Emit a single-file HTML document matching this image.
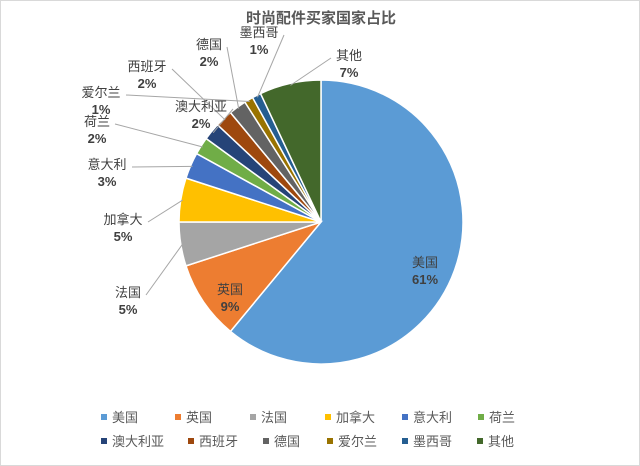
<!DOCTYPE html>
<html><head><meta charset="utf-8">
<style>
body{margin:0;background:#fff;}
#c{position:relative;width:638px;height:464px;border:1px solid #d9d9d9;background:#fff;overflow:hidden;font-family:"Liberation Sans","Noto Sans CJK SC",sans-serif;}
svg text{font-family:"Liberation Sans","Noto Sans CJK SC",sans-serif;}
</style></head>
<body>
<div id="c">
<svg id="s" width="638" height="464">
<text x="320" y="22" text-anchor="middle" font-size="15" font-weight="bold" fill="#595959">时尚配件买家国家占比</text>
<g id="slices"></g><g id="lines"></g><g id="labels"></g><g id="legend"></g>
</svg>
</div>
<script>
const categories=["美国","英国","法国","加拿大","意大利","荷兰","澳大利亚","西班牙","德国","爱尔兰","墨西哥","其他"];
const values=[61,9,5,5,3,2,2,2,2,1,1,7];
const colors=["#5B9BD5","#ED7D31","#A5A5A5","#FFC000","#4472C4","#70AD47","#264478","#9E480E","#636363","#997300","#255E91","#43682B"];
const labelPos=[[424,270],[229,297],[127,300],[122,227],[106,172],[96,129],[200,114],[146,74],[208,52],[100,100],[258,40],[348,63]];
const NS="http://www.w3.org/2000/svg";
const cx=320,cy=221,R=142;
const total=values.reduce((a,b)=>a+b,0);
const sl=document.getElementById('slices'),ln=document.getElementById('lines'),lb=document.getElementById('labels'),lg=document.getElementById('legend');
function pt(a,r){return [cx+r*Math.sin(a),cy-r*Math.cos(a)];}
let acc=0;
values.forEach((v,i)=>{
 const a0=acc/total*2*Math.PI; acc+=v; const a1=acc/total*2*Math.PI;
 const p0=pt(a0,R),p1=pt(a1,R);
 const p=document.createElementNS(NS,'path');
 p.setAttribute('d',`M${cx},${cy}L${p0[0]},${p0[1]}A${R},${R} 0 ${a1-a0>Math.PI?1:0} 1 ${p1[0]},${p1[1]}Z`);
 p.setAttribute('fill',colors[i]);p.setAttribute('stroke','#fff');p.setAttribute('stroke-width','1.5');
 
 
 sl.appendChild(p);
 const am=(a0+a1)/2;
 const [lx,ly]=labelPos[i];
 const inside=i<2;
 if(!inside){
  const e=pt(am,R-2);
  const l=document.createElementNS(NS,'polyline');
  const side=lx<cx?1:-1;
  const ax=lx+side*(categories[i].length*7+4), ay=ly-6;
  l.setAttribute('points',`${e[0]},${e[1]} ${ax},${ay}`);
  l.setAttribute('fill','none');l.setAttribute('stroke','#a6a6a6');l.setAttribute('stroke-width','1');
  
  
  ln.appendChild(l);
 }
 const t=document.createElementNS(NS,'text');
 t.setAttribute('x',lx);t.setAttribute('y',ly-4);t.setAttribute('text-anchor','middle');
 t.setAttribute('font-size','13');t.setAttribute('fill','#404040');
 
 
 const t1=document.createElementNS(NS,'tspan');t1.setAttribute('x',lx);t1.textContent=categories[i];
 const t2=document.createElementNS(NS,'tspan');t2.setAttribute('x',lx);t2.setAttribute('dy','17');t2.setAttribute('font-weight','bold');t2.textContent=v+'%';
 t.appendChild(t1);t.appendChild(t2);lb.appendChild(t);
});
const legX=[103,177,252,327,404,480,103,190,265,329,404,479];
categories.forEach((c,i)=>{
 const row=i<6?0:1;const y=row?440:416;
 const g=document.createElementNS(NS,'g');
 
 
 const r=document.createElementNS(NS,'rect');
 r.setAttribute('x',legX[i]-3);r.setAttribute('y',y-3);r.setAttribute('width',6);r.setAttribute('height',6);r.setAttribute('fill',colors[i]);
 const t=document.createElementNS(NS,'text');
 t.setAttribute('x',legX[i]+8);t.setAttribute('y',y+5);t.setAttribute('font-size','13');t.setAttribute('fill','#595959');t.textContent=c;
 g.appendChild(r);g.appendChild(t);lg.appendChild(g);
});
</script>
</body></html>
